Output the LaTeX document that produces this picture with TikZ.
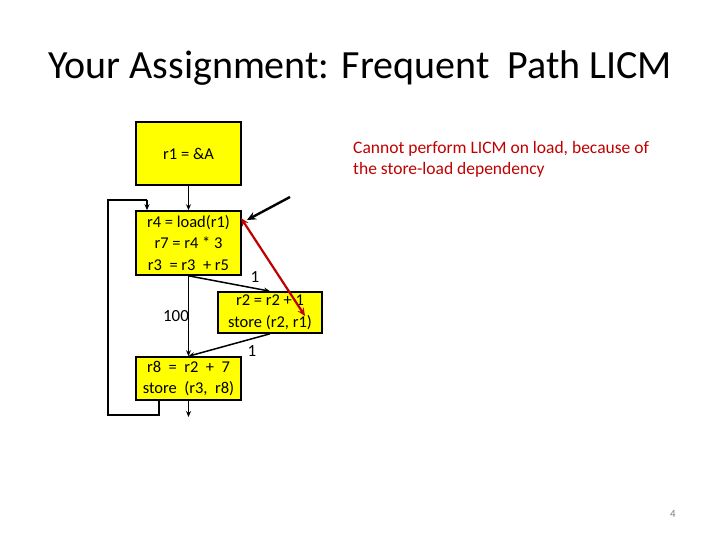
\documentclass[tikz,border=0pt]{standalone}
\usepackage{fontspec}
\setmainfont{Carlito}
\usetikzlibrary{arrows.meta}
\definecolor{boxy}{RGB}{255,255,0}
\definecolor{dred}{RGB}{192,0,0}
\begin{document}
\begin{tikzpicture}[x=1pt,y=-1pt,
  blk/.style={draw=black,line width=1.6pt,fill=boxy,inner sep=0pt,align=center,font=\fontsize{16.5}{21.5}\selectfont},
  edge/.style={line width=1.5pt,-{Stealth[length=6pt,width=5pt]}},
  lbl/.style={font=\fontsize{17}{19}\selectfont}]
\useasboundingbox (0,0) rectangle (720,540);
\node[font=\fontsize{40}{46}\selectfont] (title) at (360,68) {Your Assignment: Frequent\ \ Path LICM};
\node[blk,minimum width=105pt,minimum height=63pt] (b1) at (188.5,153.5) {r1 = \&A};
\node[blk,minimum width=105pt,minimum height=64pt] (b2) at (188.5,243) {r4 = load(r1)\\r7 = r4 * 3\\r3\ \ = r3\ \ + r5};
\node[blk,minimum width=104pt,minimum height=41pt] (b3) at (270,312.5) {r2 = r2 + 1\\store (r2, r1)};
\node[blk,minimum width=105pt,minimum height=43pt] (b4) at (188.5,378.5) {r8\ \ =\ \ r2\ \ +\ \ 7\\store\ \ (r3,\ \ r8)};
\node[font=\fontsize{17.5}{21}\selectfont,text=dred,align=left,anchor=north west,inner sep=0pt] (note) at (353,141) {Cannot perform LICM on load, because of\\the store-load dependency};
\node[lbl] (l1) at (255,277) {1};
\node[lbl] (l2) at (252,351) {1};
\node[lbl] (l3) at (176,316) {100};
\node[font=\fontsize{11}{12}\selectfont,text=gray] (pg) at (673,514) {4};
\coordinate (c1) at (159,415);
\coordinate (c2) at (108,415);
\coordinate (c3) at (108,200);
\coordinate (c4) at (147,200);
\coordinate (ex) at (188.5,417);
\coordinate (na) at (290,197);
\coordinate (nb) at (247,220);
\draw[edge] (b1.south) -- (b2.north);
\draw[edge] (b2.south) -- (b4.north);
\draw[edge] (b2.south) -- (b3.north);
\draw[edge] (b3.south) -- (b4.north);
\draw[edge] (b4.south) -- (ex);
\draw[line width=1.8pt] (b4.south -| c1) -- (c1) -- (c2) -- (c3) -- (c4);
\draw[edge] (c4) -- (b2.north -| c4);
\draw[line width=2.4pt,-{Stealth[length=9pt,width=8pt]}] (na) -- (nb);
\draw[dred,line width=2.2pt,{Stealth[length=8pt,width=7pt]}-{Stealth[length=8pt,width=7pt]}] (241,218) -- (305,316);
\end{tikzpicture}
\end{document}
